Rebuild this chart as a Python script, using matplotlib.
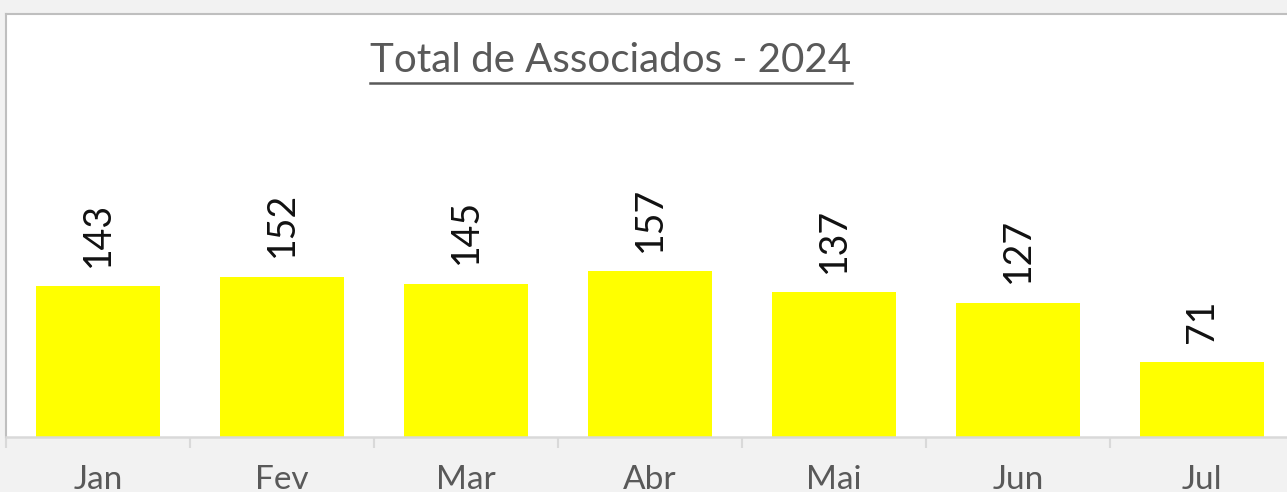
import matplotlib.pyplot as plt
from matplotlib.lines import Line2D

plt.rcParams['font.family'] = ['Lato', 'DejaVu Sans']

months = ['Jan', 'Fev', 'Mar', 'Abr', 'Mai', 'Jun', 'Jul']
totals = [143, 152, 145, 157, 137, 127, 71]
title = 'Total de Associados - 2024'

W, H = 1287, 492
fig = plt.figure(figsize=(W / 100, H / 100), dpi=100, facecolor='#f2f2f2')

# plot area in pixels: x 6 -> 1294, y 14 -> 437 (from top)
ax = fig.add_axes([6 / W, (H - 437) / H, 1288 / W, (437 - 14) / H])
ax.set_facecolor('white')

x = list(range(len(months)))
bars = ax.bar(x, totals, width=0.67, color='#ffff00', zorder=2)

ax.set_xlim(-0.5, len(months) - 0.5)
ax.set_ylim(0, 400.6)

for xi, v in zip(x, totals):
    ax.annotate(str(v), (xi, v), xytext=(0, 14), textcoords='offset points',
                rotation=90, ha='center', va='bottom', fontsize=27,
                color='#111111')

ax.set_yticks([])
ax.set_xticks(x)
ax.set_xticklabels(months, fontsize=24, color='#595959')
ax.tick_params(axis='x', which='major', length=0, pad=20)
ax.set_xticks([i - 0.5 for i in range(len(months) + 1)], minor=True)
ax.tick_params(axis='x', which='minor', length=8, width=1.5, color='#d9d9d9')

for s in ['top', 'left']:
    ax.spines[s].set_color('#bfbfbf')
    ax.spines[s].set_linewidth(1.5)
ax.spines['right'].set_visible(False)
ax.spines['bottom'].set_color('#d9d9d9')
ax.spines['bottom'].set_linewidth(1.8)

t = fig.text(611 / W, (H - 60) / H, title, ha='center', va='center',
             fontsize=29, color='#595959')

# underline below title
fig.canvas.draw()
bb = t.get_window_extent().transformed(fig.transFigure.inverted())
uy = (H - 83) / H
fig.add_artist(Line2D([bb.x0, bb.x1], [uy, uy], transform=fig.transFigure,
                      color='#595959', linewidth=1.8))

fig.savefig('out.png', dpi=100, facecolor=fig.get_facecolor())
